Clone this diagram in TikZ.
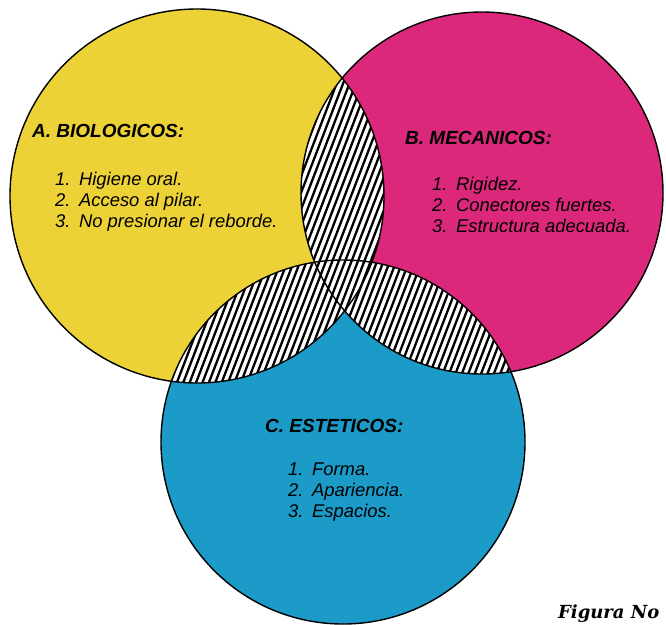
\documentclass[tikz,border=0pt]{standalone}
\usepackage{fontspec}
\setmainfont{Liberation Sans}
\newfontfamily\figfont{DejaVu Serif}
\usetikzlibrary{positioning}
\definecolor{biocolor}{RGB}{236,210,55}
\definecolor{meccolor}{RGB}{219,40,122}
\definecolor{estcolor}{RGB}{28,154,200}
\newcommand{\nitem}[2]{\makebox[1.3em][l]{#1.}#2}
\newcommand{\hatchfill}{%
  \fill[white] (0,0) rectangle (666,624);
  \foreach \x in {-300,-293.6,...,700} \draw[hatch] (\x,624) -- ++(240,-624);}

\begin{document}
\begin{tikzpicture}[x=1pt,y=-1pt,
                    ring/.style={draw=black,line width=1.4pt},
                    hatch/.style={black,line width=2.3pt},
                    head/.style={anchor=west,inner sep=0pt,
                      font=\fontsize{19}{21}\selectfont\bfseries\itshape},
                    items/.style={align=left,inner sep=0pt,
                      font=\fontsize{18.4}{21}\selectfont\itshape}]
  \useasboundingbox (0,0) rectangle (666,624);

  \coordinate (bio) at (197,196);
  \coordinate (mec) at (482,193);
  \coordinate (est) at (343,442);

  % colour discs
  \fill[biocolor] (bio) circle (187pt);
  \fill[meccolor] (mec) circle (181pt);
  \fill[estcolor] (est) circle (182pt);

  % hatched overlaps
  \begin{scope}
    \clip (bio) circle (187pt);
    \clip (mec) circle (181pt);
    \hatchfill
  \end{scope}
  \begin{scope}
    \clip (bio) circle (187pt);
    \clip (est) circle (182pt);
    \hatchfill
  \end{scope}
  \begin{scope}
    \clip (mec) circle (181pt);
    \clip (est) circle (182pt);
    \hatchfill
  \end{scope}

  \draw[ring] (bio) circle (187pt);
  \draw[ring] (mec) circle (181pt);
  \draw[ring] (est) circle (182pt);

  \node[head] (biohead) at (32,131) {A. BIOLOGICOS:};
  \node[items, below right=34pt and 23pt of biohead.south west] (bioitems)
    {\nitem{1}{Higiene oral.}\\ \nitem{2}{Acceso al pilar.}\\ \nitem{3}{No presionar el reborde.}};

  \node[head] (mechead) at (405,138) {B. MECANICOS:};
  \node[items, below right=32pt and 27pt of mechead.south west] (mecitems)
    {\nitem{1}{Rigidez.}\\ \nitem{2}{Conectores fuertes.}\\ \nitem{3}{Estructura adecuada.}};

  \node[head] (esthead) at (265,426) {C. ESTETICOS:};
  \node[items, below right=30pt and 23pt of esthead.south west] (estitems)
    {\nitem{1}{Forma.}\\ \nitem{2}{Apariencia.}\\ \nitem{3}{Espacios.}};

  \node[anchor=base west,inner sep=0pt,
        font=\figfont\fontsize{18}{20}\selectfont\bfseries\itshape] (fig) at (558,618) {Figura No};

\end{tikzpicture}
\end{document}
